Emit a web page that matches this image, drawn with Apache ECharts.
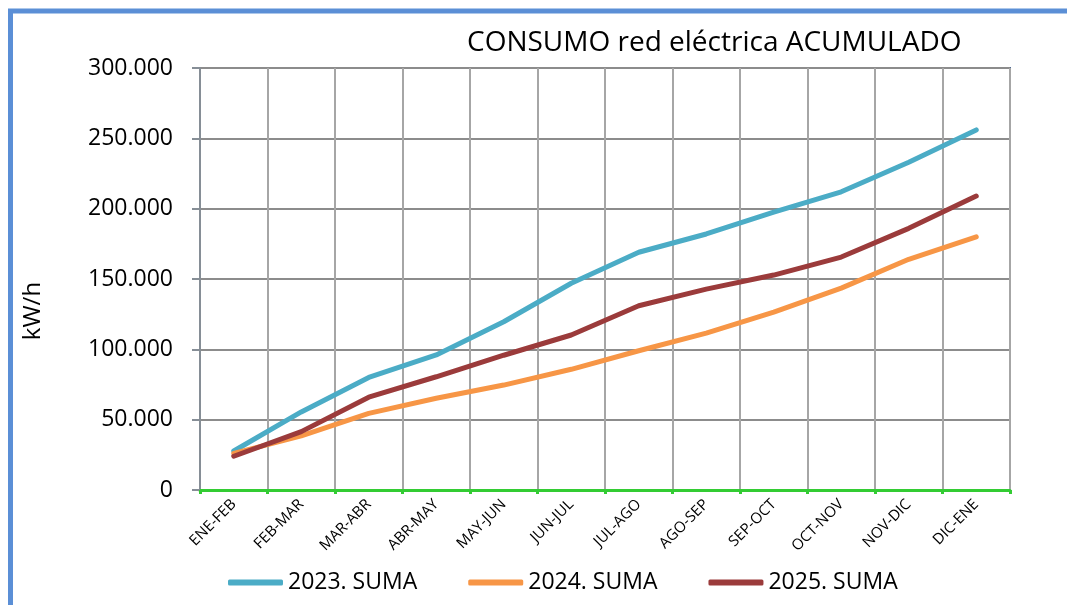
<!DOCTYPE html>
<html>
<head>
<meta charset="utf-8">
<script src="https://cdn.jsdelivr.net/npm/echarts@6/dist/echarts.min.js"></script>
<style>
  html, body { margin: 0; padding: 0; background: #fff; }
  #chart { width: 1067px; height: 605px; }
</style>
</head>
<body>
<div id="chart"></div>
<script>
// periodos
var meses = ["ENE-FEB", "FEB-MAR", "MAR-ABR", "ABR-MAY", "MAY-JUN", "JUN-JUL",
  "JUL-AGO", "AGO-SEP", "SEP-OCT", "OCT-NOV", "NOV-DIC", "DIC-ENE"];

// consumo acumulado kW/h
var suma2023 = [27700, 55500, 80000, 96000, 119600, 147000, 169000, 182000, 197500, 212000, 233000, 256000];
var suma2024 = [26000, 38500, 54500, 65200, 74600, 85800, 99000, 111500, 126500, 143500, 164000, 180000];
var suma2025 = [24000, 41500, 66000, 80500, 95800, 110200, 131000, 142800, 152800, 165600, 186000, 209000];

var chart = echarts.init(document.getElementById("chart"));

function miles(v) {
  // 250000 -> 250.000
  return String(v).replace(/\B(?=(\d{3})+(?!\d))/g, ".");
}

chart.setOption({
  animation: false,
  textStyle: { fontFamily: "Open Sans" },
  title: {
    text: "CONSUMO red eléctrica ACUMULADO",
    left: 462,
    top: 24,
    textStyle: { fontSize: 28, fontWeight: "normal", color: "#000" }
  },
  graphic: [
    {
      type: "rect",
      shape: { x: 10.5, y: 11, width: 1200, height: 800 },
      style: { fill: "none", stroke: "#5b8fd6", lineWidth: 5 },
      silent: true
    },
    {
      type: "text",
      x: 33,
      y: 311,
      rotation: Math.PI / 2,
      style: {
        text: "kW/h",
        font: "24px 'Open Sans'",
        fill: "#000",
        align: "center",
        verticalAlign: "middle"
      }
    }
  ],
  legend: {
    left: 223,
    top: 566,
    itemWidth: 55,
    itemHeight: 6,
    itemGap: 51,
    icon: "roundRect",
    textStyle: { fontSize: 23, color: "#000" },
    data: ["2023. SUMA", "2024. SUMA", "2025. SUMA"]
  },
  grid: {
    left: 200,
    right: 57,
    top: 68,
    bottom: 115,
    show: true,
    borderColor: "#4f6a94",
    borderWidth: 2,
    containLabel: false
  },
  xAxis: {
    type: "category",
    data: meses,
    boundaryGap: true,
    axisLine: { lineStyle: { color: "#33cc33", width: 3 } },
    axisTick: { show: true, length: 4, lineStyle: { color: "#33cc33", width: 3 } },
    splitLine: { show: true, lineStyle: { color: "#a6a6a6", width: 2 } },
    axisLabel: { rotate: 45, interval: 0, fontSize: 15, color: "#000", margin: 12 }
  },
  yAxis: {
    type: "value",
    min: 0,
    max: 300000,
    interval: 50000,
    axisLine: { show: true, lineStyle: { color: "#868e96", width: 2 } },
    axisTick: { show: true, length: 8, lineStyle: { color: "#868e96", width: 2 } },
    splitLine: { show: true, lineStyle: { color: "#8c8c8c", width: 2 } },
    axisLabel: { fontSize: 23, color: "#000", margin: 27, formatter: miles }
  },
  series: [
    {
      name: "2023. SUMA",
      type: "line",
      data: suma2023,
      symbol: "none",
      lineStyle: { width: 5, color: "#4bacc6", cap: "round" },
      itemStyle: { color: "#4bacc6" }
    },
    {
      name: "2024. SUMA",
      type: "line",
      data: suma2024,
      symbol: "none",
      lineStyle: { width: 5, color: "#f79646", cap: "round" },
      itemStyle: { color: "#f79646" }
    },
    {
      name: "2025. SUMA",
      type: "line",
      data: suma2025,
      symbol: "none",
      lineStyle: { width: 5, color: "#9b3b3b", cap: "round" },
      itemStyle: { color: "#9b3b3b" }
    }
  ]
});
</script>
</body>
</html>
